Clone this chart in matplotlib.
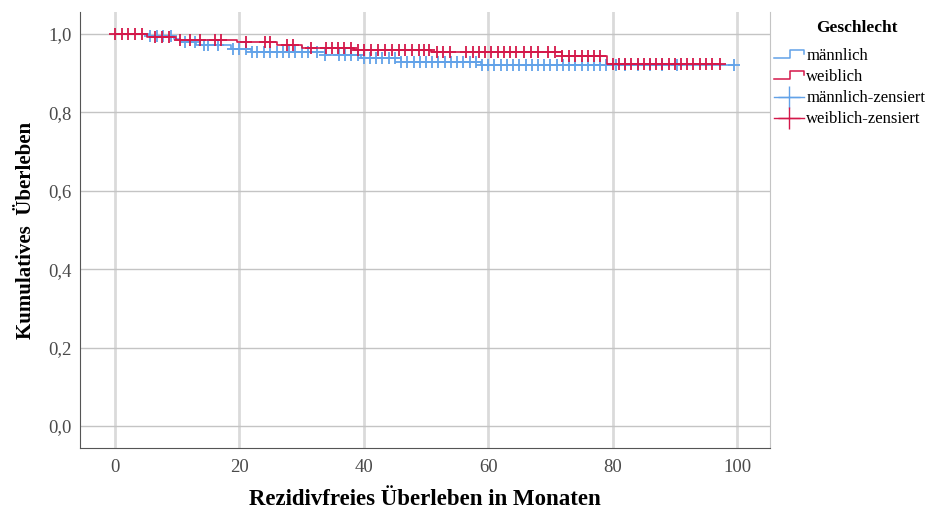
import numpy as np
import matplotlib
matplotlib.use("Agg")
import matplotlib.pyplot as plt
from matplotlib.lines import Line2D
from matplotlib.legend_handler import HandlerBase

plt.rcParams['font.family'] = ['Liberation Serif', 'DejaVu Serif']

# Kaplan-Meier steps
m_t = [0, 5.5, 9.5, 10.5, 13, 18.7, 21.9, 33.7, 39.6, 46, 58.9, 99.5]
m_s = [1.0, 0.994, 0.988, 0.980, 0.972, 0.962, 0.954, 0.946, 0.939, 0.929, 0.921, 0.921]
w_t = [0, 5.1, 9.8, 19.6, 26, 30, 38.5, 50.8, 71.8, 79.1, 97.3]
w_s = [1.0, 0.992, 0.985, 0.980, 0.972, 0.965, 0.960, 0.954, 0.944, 0.923, 0.923]

# censored observations
m_cens = [5.6, 6.7, 7.8, 9.0, 11.2, 12.8, 14.4, 15.0, 16.5, 19.0, 20.0, 21.0, 22.0, 22.9,
          24.0, 25.0, 26.0, 27.0, 28.0, 29.0, 30.0, 31.0, 32.5, 33.7, 36.0, 37.0, 38.0,
          39.0, 40.0, 41.0, 42.0, 43.0, 44.0, 45.0, 46.0, 47.0, 48.0, 49.0, 50.0, 51.0,
          52.0, 53.0, 54.0, 55.0, 56.0, 57.0, 58.0, 59.0, 60.0, 61.0, 62.0, 63.0, 64.0,
          65.0, 66.0, 67.0, 68.0, 69.0, 70.0, 71.0, 72.0, 73.0, 74.0, 75.0, 76.0, 77.0,
          78.0, 79.0, 80.5, 82.0, 84.0, 86.0, 88.0, 90.4, 99.5]
w_cens = [0.0, 1.1, 2.1, 3.2, 4.3, 6.5, 7.5, 8.7, 10.5, 12.0, 13.7, 16.1, 17.0, 21.0,
          24.2, 25.0, 27.7, 28.7, 31.5, 33.9, 34.9, 35.9, 36.9, 37.9, 39.0, 40.1, 41.2,
          42.3, 43.4, 44.5, 45.6, 46.7, 47.8, 48.9, 49.7, 50.5, 51.7, 52.8, 53.9, 56.5,
          57.5, 58.5, 59.5, 60.5, 61.5, 62.5, 63.5, 64.5, 65.8, 66.9, 68.0, 69.6, 70.7,
          71.8, 73.0, 74.0, 75.0, 76.0, 77.0, 78.0, 80.0, 81.0, 82.0, 83.0, 84.0, 85.0,
          86.0, 87.0, 88.0, 89.0, 90.0, 91.0, 92.0, 93.0, 94.0, 95.0, 96.0, 97.3]

blue = '#62a2e8'
red = '#d4184a'


def surv_at(t, times, surv):
    i = np.searchsorted(times, t, side='right') - 1
    return np.asarray(surv)[i]


class StepHandler(HandlerBase):
    # small step symbol like the SPSS legend
    def create_artists(self, legend, orig, xd, yd, w, h, fs, trans):
        xs = [xd, xd + 0.55 * w, xd + 0.55 * w, xd + w, xd + w]
        ys = [yd + 0.2 * h, yd + 0.2 * h, yd + 0.9 * h, yd + 0.9 * h, yd + 0.55 * h]
        ln = Line2D(xs, ys, color=orig.get_color(), lw=1.1, transform=trans)
        return [ln]


fig = plt.figure(figsize=(9.37, 5.09), dpi=100)
ax = fig.add_axes([0.0854, 0.1198, 0.7364, 0.8566])

ax.step(m_t, m_s, where='post', color=blue, lw=1.2, zorder=3)
ax.step(w_t, w_s, where='post', color=red, lw=1.2, zorder=4)
ax.plot(m_cens, surv_at(m_cens, m_t, m_s), ls='none', marker='+', ms=9, mew=1.3,
        color=blue, zorder=3)
ax.plot(w_cens, surv_at(w_cens, w_t, w_s), ls='none', marker='+', ms=9, mew=1.3,
        color=red, zorder=4)

ax.set_xlim(-5.6, 105.3)
ax.set_ylim(-0.056, 1.056)
ax.set_xticks([0, 20, 40, 60, 80, 100])
ax.set_yticks([0, 0.2, 0.4, 0.6, 0.8, 1.0])
ax.set_yticklabels(['0,0', '0,2', '0,4', '0,6', '0,8', '1,0'])
for x in [0, 20, 40, 60, 80, 100]:
    ax.axvline(x, color='#dadada', lw=2, zorder=1)
for y in [0, 0.2, 0.4, 0.6, 0.8, 1.0]:
    ax.axhline(y, color='#c4c4c4', lw=1, zorder=1)

ax.tick_params(length=0, labelsize=13.5, labelcolor='#4a4a4a')
ax.tick_params(axis='x', pad=8)
ax.tick_params(axis='y', pad=6)
ax.spines['top'].set_visible(False)
ax.spines['right'].set_color('#c4c4c4')
ax.spines['left'].set_color('#555555')
ax.spines['bottom'].set_color('#555555')

ax.set_xlabel('Rezidivfreies Überleben in Monaten', fontsize=16.5, fontweight='bold',
              labelpad=9)
ax.set_ylabel('Kumulatives  Überleben', fontsize=15, fontweight='bold', labelpad=9)

fig.text(857 / 937, 1 - 28 / 509, 'Geschlecht', ha='center', va='center',
         fontsize=12.5, fontweight='bold')

handles = [
    Line2D([0], [0], color=blue),
    Line2D([0], [0], color=red),
    Line2D([0], [0], color=blue, lw=1.0, marker='+', ms=16, mew=1.0),
    Line2D([0], [0], color=red, lw=1.0, marker='+', ms=16, mew=1.0),
]
labels = ['männlich', 'weiblich', 'männlich-zensiert', 'weiblich-zensiert']
leg = fig.legend(handles, labels, loc='upper left', bbox_to_anchor=(0.826, 0.905),
                 frameon=False, fontsize=12, handlelength=1.8,
                 handletextpad=0.15, labelspacing=0.3, borderaxespad=0, borderpad=0,
                 handler_map={handles[0]: StepHandler(), handles[1]: StepHandler()})

fig.savefig('out.png', dpi=100)
